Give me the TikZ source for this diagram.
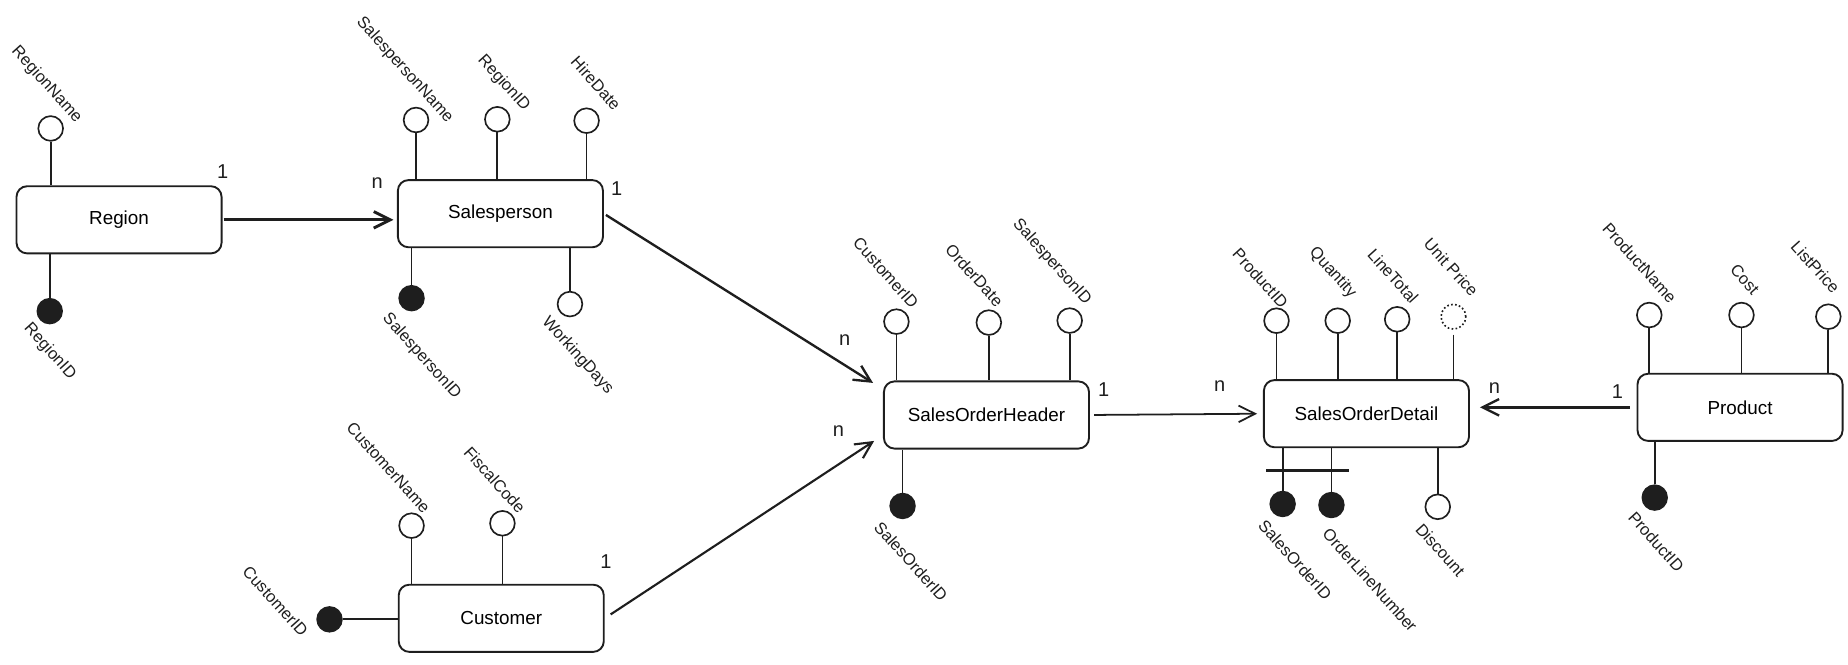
\documentclass[tikz,border=0pt]{standalone}
\usepackage{fontspec}
\setmainfont{Liberation Sans}
\usetikzlibrary{arrows.meta,calc}
\definecolor{ink}{HTML}{1E1E1E}

\tikzstyle{entity}=[draw=ink,rounded corners=9pt,line width=1.6pt,minimum width=174pt,minimum height=57pt,font=\fontsize{16}{19}\selectfont]
\tikzstyle{attr}=[circle,draw=ink,line width=1.4pt,minimum size=21pt,inner sep=0pt]
\tikzstyle{key}=[attr,fill=ink]
\tikzstyle{derived}=[attr,dotted]
\tikzstyle{attlabel}=[rotate=-48,inner sep=0pt,text=ink,font=\fontsize{14}{16}\selectfont]
\tikzstyle{card}=[inner sep=0pt,text=ink,font=\fontsize{17}{20}\selectfont]
\tikzstyle{link}=[draw=ink,line width=1.5pt]
\tikzstyle{rel}=[draw=ink,line width=1.6pt,-{Straight Barb[length=14pt,width=14pt]}]

\begin{document}
\begin{tikzpicture}[x=1pt,y=-1pt]
  \useasboundingbox (0,0) rectangle (1568,563.4);

  % entities
  \node[entity] (region) at (101,186.5) {Region};
  \node[entity] (sp) at (424.6,181.3) {Salesperson};
  \node[entity] (cust) at (425.3,524.6) {Customer};
  \node[entity] (soh) at (837,352.1) {SalesOrderHeader};
  \node[entity] (sod) at (1159.4,351) {SalesOrderDetail};
  \node[entity] (prod) at (1476.4,345.6) {Product};

  % Region
  \node[attr] (rname) at (43,109) {} edge[link] (rname |- region.north);
  \node[key] (rid) at (42.2,264) {} edge[link] (rid |- region.south);
  \node[attlabel,anchor=east] (l-rname) at (67,102.5) {RegionName};
  \node[attlabel,anchor=west] (l-rid) at (22.6,276.5) {RegionID};

  % Salesperson
  \node[attr] (spname) at (353,101.8) {} edge[link] (spname |- sp.north);
  \node[attr] (sprid) at (422,101.2) {} edge[link] (sprid |- sp.north);
  \node[attr] (sphire) at (497.7,102.4) {} edge[link] (sphire |- sp.north);
  \node[key] (spid) at (349.2,253) {} edge[link] (spid |- sp.south);
  \node[attr] (spdays) at (483.6,258) {} edge[link] (spdays |- sp.south);
  \node[attlabel,anchor=east] (l-spname) at (382,102.5) {SalespersonName};
  \node[attlabel,anchor=east] (l-sprid) at (447,92.6) {RegionID};
  \node[attlabel,anchor=east] (l-sphire) at (524.3,91.2) {HireDate};
  \node[attlabel,anchor=west] (l-spid) at (326.8,268) {SalespersonID};
  \node[attlabel,anchor=west] (l-spdays) at (462.2,270.8) {WorkingDays};

  % Customer
  \node[attr] (cname) at (349.2,446) {} edge[link] (cname |- cust.north);
  \node[attr] (cfiscal) at (426.3,444) {} edge[link] (cfiscal |- cust.north);
  \node[key] (cid) at (279.6,525.5) {} edge[link] (cid -| cust.west);
  \node[attlabel,anchor=east] (l-cname) at (362.5,433.4) {CustomerName};
  \node[attlabel,anchor=east] (l-cfiscal) at (443.4,433.4) {FiscalCode};
  \node[attlabel,anchor=east] (l-cid) at (258.8,538) {CustomerID};

  % SalesOrderHeader
  \node[attr] (sohcust) at (760.6,272.9) {} edge[link] (sohcust |- soh.north);
  \node[attr] (sohdate) at (839,273.7) {} edge[link] (sohdate |- soh.north);
  \node[attr] (sohsp) at (907.6,272) {} edge[link] (sohsp |- soh.north);
  \node[key] (sohid) at (765.8,429.3) {} edge[link] (sohid |- soh.south);
  \node[attlabel,anchor=east] (l-sohcust) at (776.7,259.4) {CustomerID};
  \node[attlabel,anchor=east] (l-sohdate) at (848.8,258) {OrderDate};
  \node[attlabel,anchor=east] (l-sohsp) at (923.3,256.6) {SalespersonID};
  \node[attlabel,anchor=west] (l-sohid) at (744.5,444.7) {SalesOrderID};

  % SalesOrderDetail
  \node[attr] (sodprod) at (1083.1,272.1) {} edge[link] (sodprod |- sod.north);
  \node[attr] (sodqty) at (1135,272.1) {} edge[link] (sodqty |- sod.north);
  \node[attr] (sodtotal) at (1185.5,270.9) {} edge[link] (sodtotal |- sod.north);
  \node[derived] (sodprice) at (1233.2,268.7) {} edge[link,shorten <=4pt] (sodprice |- sod.north);
  \node[key] (sodsoid) at (1088.3,427.6) {} edge[link] (sodsoid |- sod.south);
  \node[key] (sodoln) at (1129.7,428.5) {} edge[link] (sodoln |- sod.south);
  \node[attr] (soddisc) at (1219.9,430) {} edge[link] (soddisc |- sod.south);
  \draw[draw=ink,line width=2.2pt] ($(sodsoid)+(-14,-28.3)$) -- ($(sodoln)+(14.8,-29.2)$);
  \node[attlabel,anchor=east] (l-sodprod) at (1090.4,259.4) {ProductID};
  \node[attlabel,anchor=east] (l-sodqty) at (1148.2,250.9) {Quantity};
  \node[attlabel,anchor=east] (l-sodtotal) at (1200.8,255.2) {LineTotal};
  \node[attlabel,anchor=east] (l-sodprice) at (1251.7,249.5) {Unit Price};
  \node[attlabel,anchor=west] (l-sodsoid) at (1070.5,443.4) {SalesOrderID};
  \node[attlabel,anchor=west] (l-sodoln) at (1124.9,450.4) {OrderLineNumber};
  \node[attlabel,anchor=west] (l-soddisc) at (1203.8,446.2) {Discount};

  % Product
  \node[attr] (pname) at (1399.4,267.3) {} edge[link] (pname |- prod.north);
  \node[attr] (pcost) at (1477.6,267.3) {} edge[link] (pcost |- prod.north);
  \node[attr] (plist) at (1551.3,268.7) {} edge[link] (plist |- prod.north);
  \node[key] (pid) at (1404,422.2) {} edge[link] (pid |- prod.south);
  \node[attlabel,anchor=east] (l-pname) at (1420,255.2) {ProductName};
  \node[attlabel,anchor=east] (l-pcost) at (1490.2,248.1) {Cost};
  \node[attlabel,anchor=east] (l-plist) at (1558.5,246.7) {ListPrice};
  \node[attlabel,anchor=west] (l-pid) at (1384.4,436.3) {ProductID};

  % relationships
  \draw[rel,line width=2.4pt,shorten <=1pt,shorten >=3pt] (region.east) -- (region.east -| sp.west);
  \draw[rel,line width=2pt,shorten <=2pt,shorten >=10pt] (sp.east) -- (soh.166);
  \draw[rel,line width=1.8pt,shorten <=6pt,shorten >=9pt] (cust.east) -- (soh.191);
  \draw[rel,line width=1.5pt,shorten <=3.5pt,shorten >=5pt] (soh.east) -- (sod.west);
  \draw[rel,line width=2pt,shorten <=6pt,shorten >=8.5pt] (prod.west) -- (prod.west -| sod.east);

  \node[card] (c-region) at (189,145.6) {1};
  \node[card] (c-sp-in) at (320,155.5) {n};
  \node[card] (c-sp-out) at (523.3,159.8) {1};
  \node[card] (c-soh-sp) at (716.6,288.4) {n};
  \node[card] (c-cust) at (514.2,476.5) {1};
  \node[card] (c-soh-cust) at (711.3,366.2) {n};
  \node[card] (c-soh-out) at (936.4,330.9) {1};
  \node[card] (c-sod-soh) at (1034.9,328) {n};
  \node[card] (c-sod-prod) at (1267.9,329.5) {n};
  \node[card] (c-prod) at (1372.4,332.3) {1};
\end{tikzpicture}
\end{document}
